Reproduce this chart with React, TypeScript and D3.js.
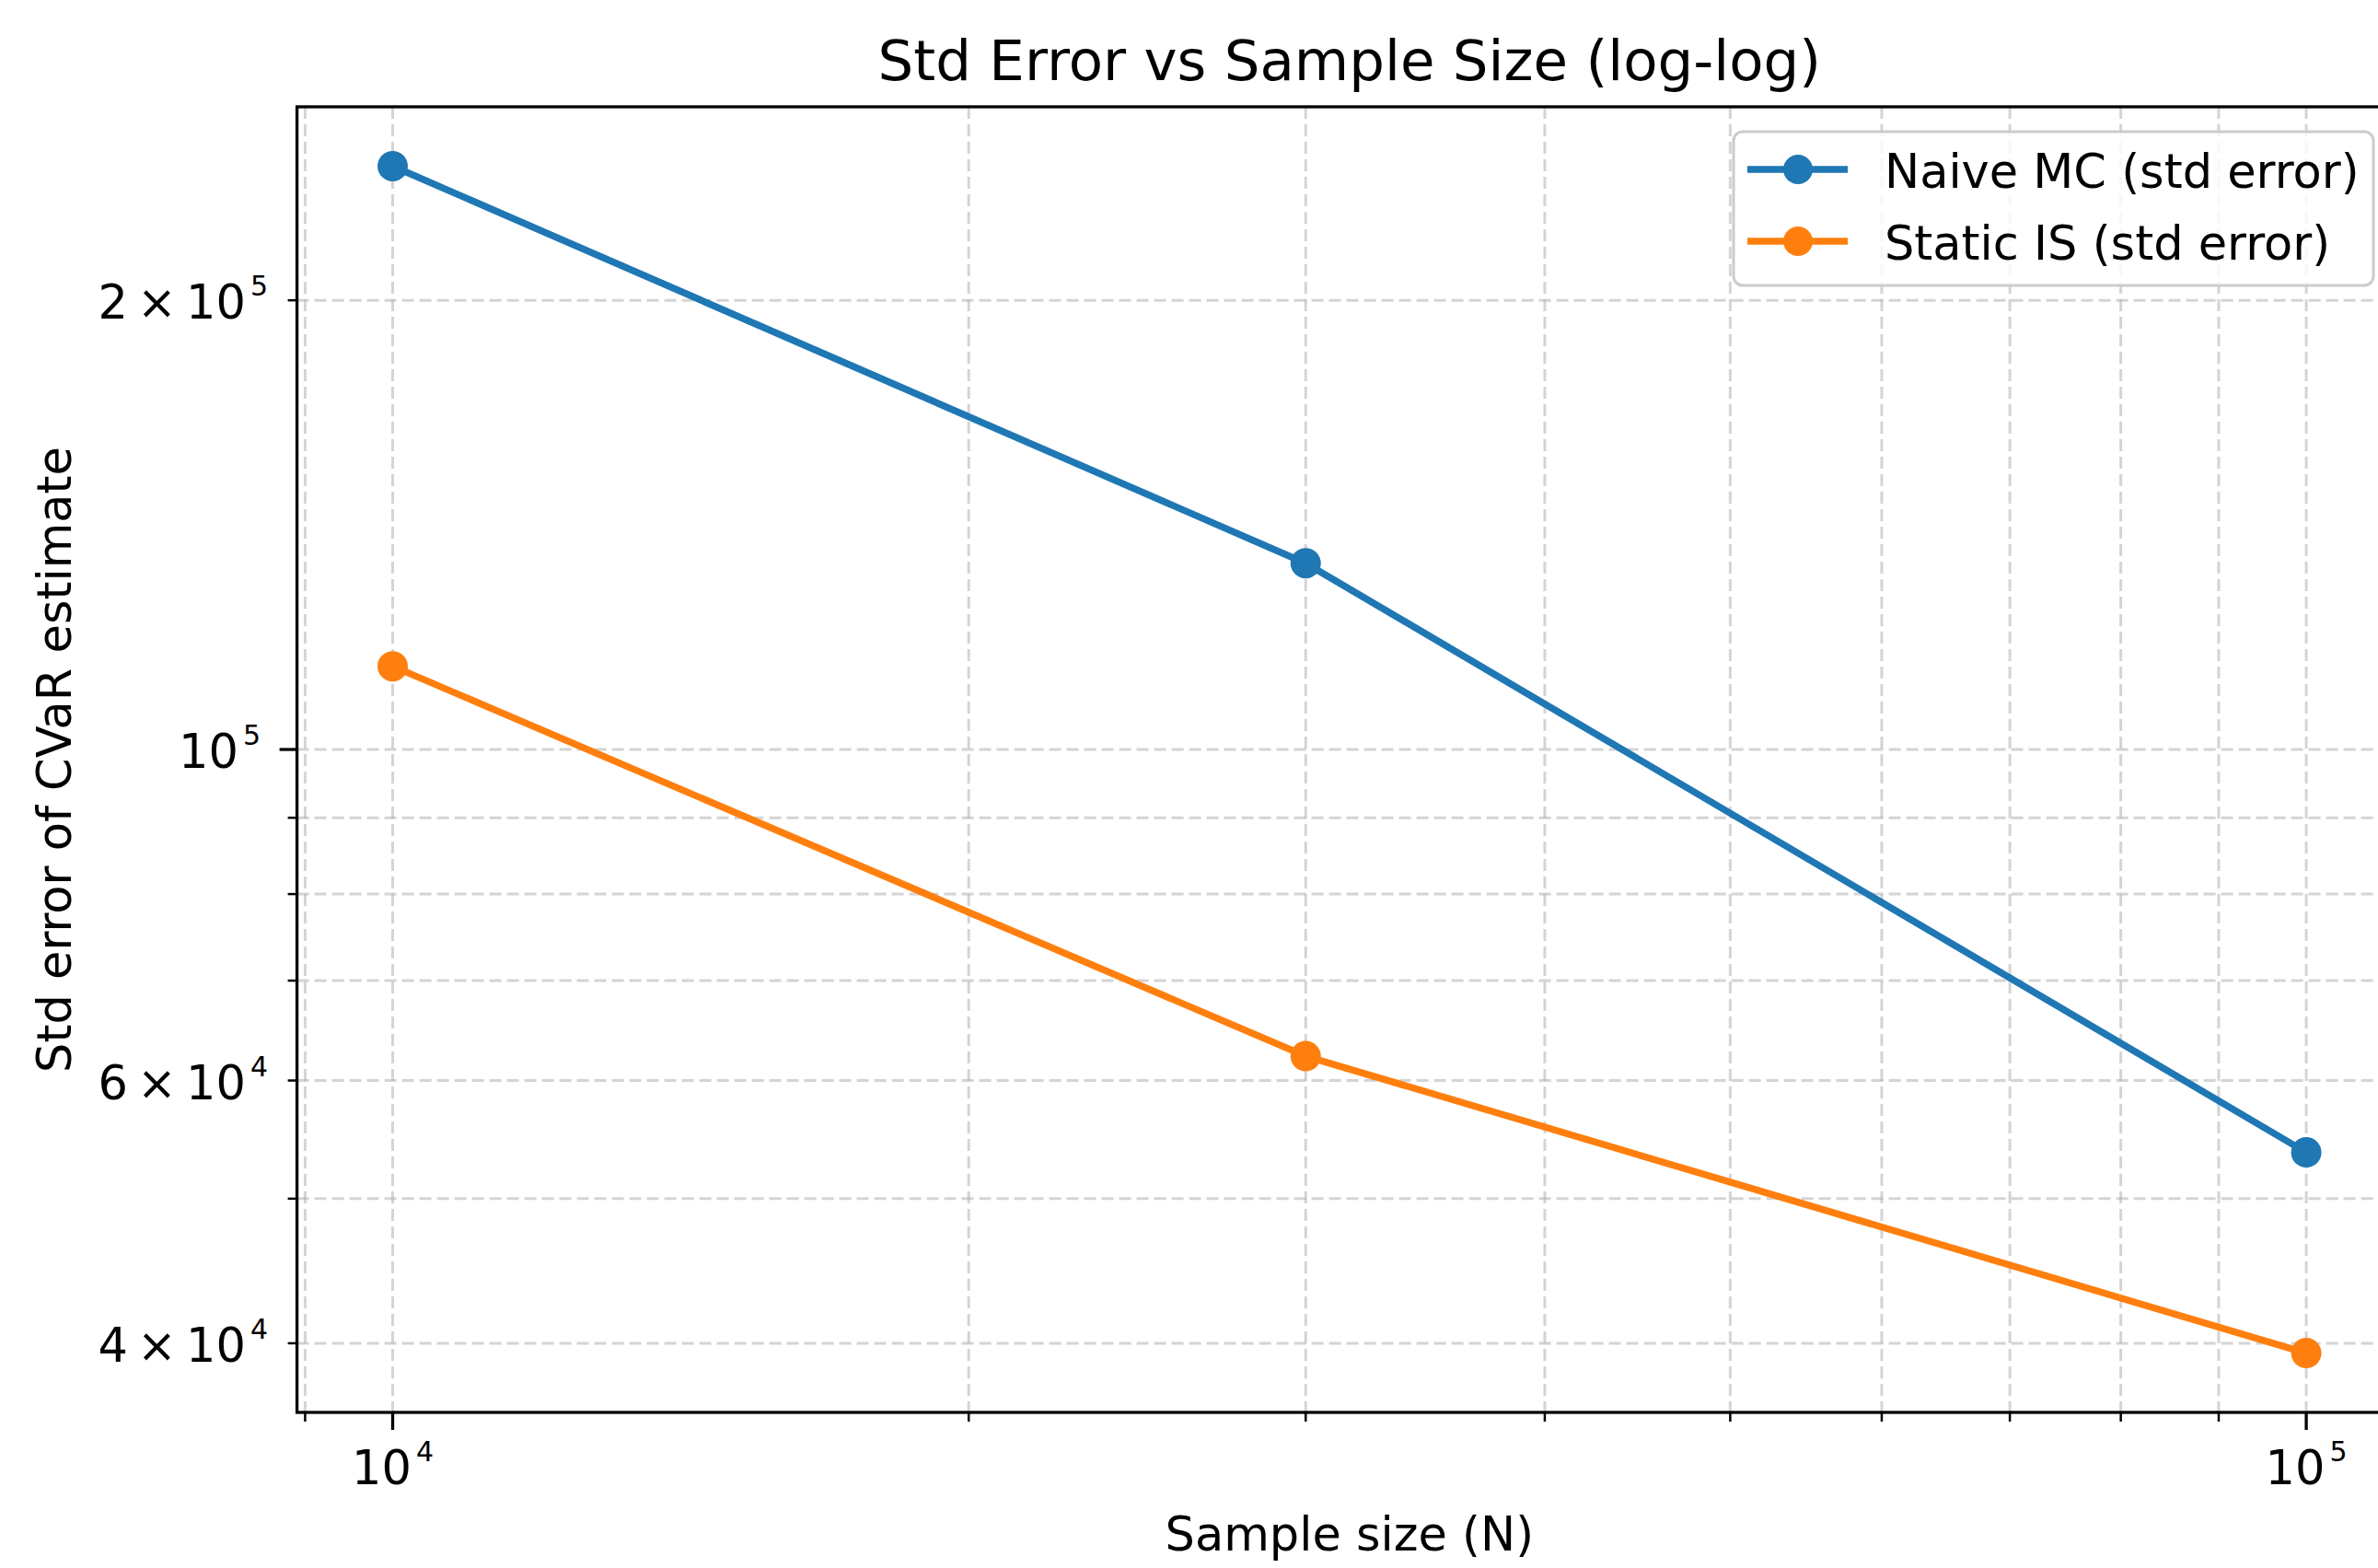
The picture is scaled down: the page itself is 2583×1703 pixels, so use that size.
import React from "react";
import * as d3 from "d3";

// ---- Data ----
const sampleSizes = [10000, 30000, 100000];
const naiveMC = [246000, 133300, 53700];
const staticIS = [113700, 62300, 39400];
const seriesNames = ["Naive MC (std error)", "Static IS (std error)"];
const seriesColors = ["#1f77b4", "#ff7f0e"];

const xMajorTicks = [10000, 100000];
const xMinorTicks = [9000, 20000, 30000, 40000, 50000, 60000, 70000, 80000, 90000];
const yMajorTicks = [100000];
const yMinorTicks = [40000, 50000, 60000, 70000, 80000, 90000, 200000];
const yLabeledTicks = [40000, 60000, 100000, 200000];
const xLabeledTicks = [10000, 100000];

const title = "Std Error vs Sample Size (log-log)";
const xLabel = "Sample size (N)";
const yLabel = "Std error of CVaR estimate";

// ---- Layout ----
const W = 2583;
const H = 1703;
const L = 322.6;
const R = 2609;
const T = 116;
const B = 1534;
const FONT = "'DejaVu Sans', sans-serif";

function logPad(vals: number[], frac: number): [number, number] {
  const lo = Math.log10(d3.min(vals) as number);
  const hi = Math.log10(d3.max(vals) as number);
  const m = (hi - lo) * frac;
  return [Math.pow(10, lo - m), Math.pow(10, hi + m)];
}

const x = d3.scaleLog().domain(logPad(sampleSizes, 0.05)).range([L, R]);
const y = d3.scaleLog().domain(logPad([...naiveMC, ...staticIS], 0.05)).range([B, T]);

function sci(v: number) {
  const e = Math.floor(Math.log10(v) + 1e-9);
  const m = Math.round(v / Math.pow(10, e));
  return { m, e };
}

function SciText(props: { x: number; y: number; v: number; anchor: string }) {
  const { m, e } = sci(props.v);
  const base = m === 1 ? "10" : `${m}\u2009\u00d7\u200910`;
  return (
    <text x={props.x} y={props.y} textAnchor={props.anchor} fontFamily={FONT} fontSize={51} fill="#000">
      <tspan>{base}</tspan>
      <tspan dx={5} dy={-25} fontSize={30}>{String(e)}</tspan>
    </text>
  );
}

export default function App() {
  const line = d3
    .line<number>()
    .x((_, i) => x(sampleSizes[i]))
    .y((d) => y(d));
  const series = [naiveMC, staticIS];
  const allX = [...xMajorTicks, ...xMinorTicks];
  const allY = [...yMajorTicks, ...yMinorTicks];
  const gridStyle = { stroke: "#b0b0b0", strokeOpacity: 0.55, strokeWidth: 3, strokeDasharray: "13,6" };

  const legX = 1883, legY = 143, legW = 695, legH = 167;
  const rowY = [184, 262];

  return (
    <svg width={W} height={H} style={{ position: "absolute", left: 0, top: 0, background: "#fff" }}>
      <rect x={0} y={0} width={W} height={H} fill="#fff" />
      {/* grid */}
      {allX.map((t) => (
        <line key={"gx" + t} x1={x(t)} x2={x(t)} y1={T} y2={B} {...gridStyle} />
      ))}
      {allY.map((t) => (
        <line key={"gy" + t} x1={L} x2={R} y1={y(t)} y2={y(t)} {...gridStyle} />
      ))}
      {/* series */}
      {series.map((s, si) => (
        <g key={"s" + si}>
          <path d={line(s) || ""} fill="none" stroke={seriesColors[si]} strokeWidth={7.5} strokeLinejoin="round" strokeLinecap="round" />
          {s.map((v, i) => (
            <circle key={i} cx={x(sampleSizes[i])} cy={y(v)} r={16.5} fill={seriesColors[si]} />
          ))}
        </g>
      ))}
      {/* spines */}
      <rect x={L} y={T} width={R - L} height={B - T} fill="none" stroke="#000" strokeWidth={3.3} />
      {/* x ticks */}
      {xMajorTicks.map((t) => (
        <line key={"xt" + t} x1={x(t)} x2={x(t)} y1={B} y2={B + 19} stroke="#000" strokeWidth={3.3} />
      ))}
      {xMinorTicks.map((t) => (
        <line key={"xm" + t} x1={x(t)} x2={x(t)} y1={B} y2={B + 10} stroke="#000" strokeWidth={2.5} />
      ))}
      {xLabeledTicks.map((t) => (
        <SciText key={"xl" + t} x={x(t)} y={1612} v={t} anchor="middle" />
      ))}
      {/* y ticks */}
      {yMajorTicks.map((t) => (
        <line key={"yt" + t} x1={L} x2={L - 19} y1={y(t)} y2={y(t)} stroke="#000" strokeWidth={3.3} />
      ))}
      {yMinorTicks.map((t) => (
        <line key={"ym" + t} x1={L} x2={L - 10} y1={y(t)} y2={y(t)} stroke="#000" strokeWidth={2.5} />
      ))}
      {yLabeledTicks.map((t) => {
        const major = yMajorTicks.includes(t);
        return <SciText key={"yl" + t} x={major ? 283 : 291} y={y(t) + 20} v={t} anchor="end" />;
      })}
      {/* labels */}
      <text x={(L + R) / 2} y={87} textAnchor="middle" fontFamily={FONT} fontSize={61} fill="#000">
        {title}
      </text>
      <text x={(L + R) / 2} y={1684} textAnchor="middle" fontFamily={FONT} fontSize={51} fill="#000">
        {xLabel}
      </text>
      <text transform={`translate(77,${(T + B) / 2}) rotate(-90)`} textAnchor="middle" fontFamily={FONT} fontSize={51} fill="#000">
        {yLabel}
      </text>
      {/* legend */}
      <rect x={legX} y={legY} width={legW} height={legH} rx={10} ry={10} fill="#fff" fillOpacity={0.8} stroke="#cccccc" strokeWidth={3} />
      {seriesNames.map((n, i) => (
        <g key={"lg" + i}>
          <line x1={1898} x2={2007} y1={rowY[i]} y2={rowY[i]} stroke={seriesColors[i]} strokeWidth={7.5} />
          <circle cx={1953} cy={rowY[i]} r={16} fill={seriesColors[i]} />
          <text x={2047} y={rowY[i] + 20} fontFamily={FONT} fontSize={51} fill="#000">
            {n}
          </text>
        </g>
      ))}
    </svg>
  );
}
